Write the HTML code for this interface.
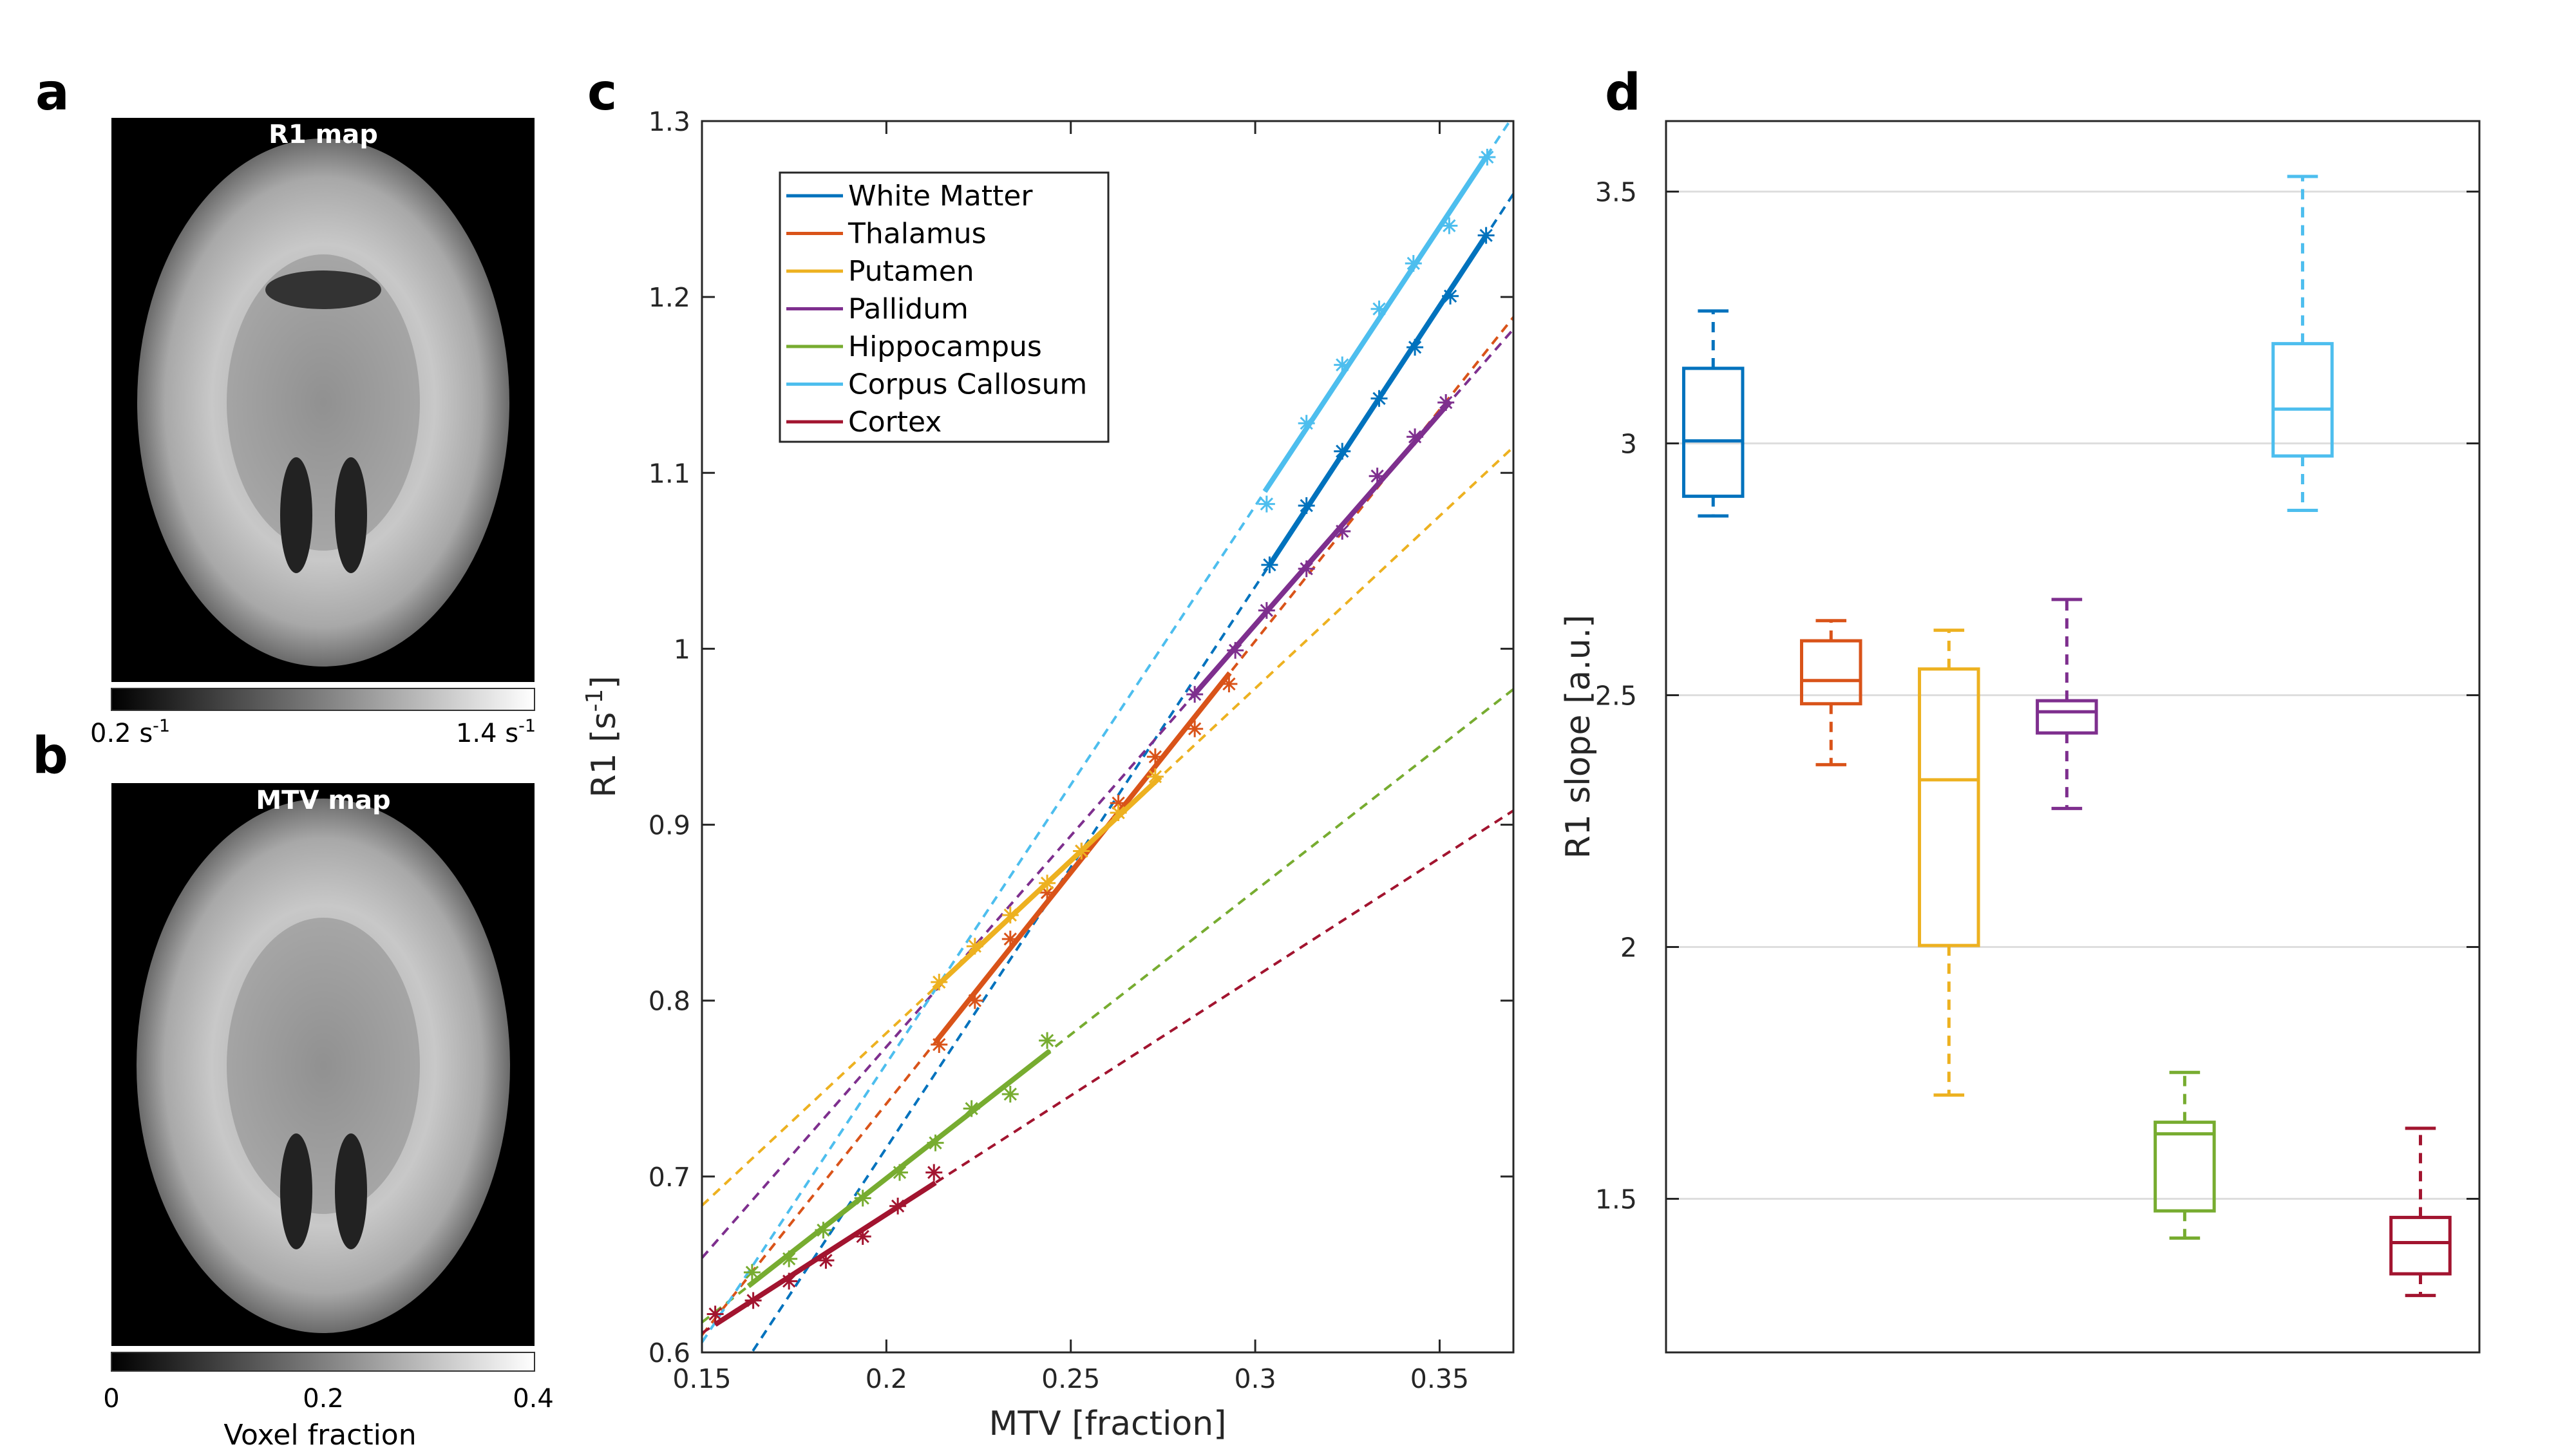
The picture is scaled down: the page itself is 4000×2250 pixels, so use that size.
<!DOCTYPE html>
<html><head><meta charset="utf-8">
<style>
html,body{margin:0;padding:0;background:#fff;}
svg{display:block;font-family:"DejaVu Sans","Liberation Sans",sans-serif;}
</style></head>
<body>
<svg id="fig" width="4000" height="2250" viewBox="0 0 4000 2250" xmlns="http://www.w3.org/2000/svg">
<defs>
<linearGradient id="cb" x1="0" x2="1" y1="0" y2="0"><stop offset="0" stop-color="#000"/><stop offset="1" stop-color="#fff"/></linearGradient>
<radialGradient id="brain" cx="0.5" cy="0.5" r="0.5"><stop offset="0" stop-color="#9a9a9a"/><stop offset="0.6" stop-color="#c8c8c8"/><stop offset="0.85" stop-color="#a8a8a8"/><stop offset="1" stop-color="#6a6a6a"/></radialGradient>
<clipPath id="clipc"><rect x="1090" y="188" width="1260" height="1912"/></clipPath>
</defs>
<text x="55" y="170" font-size="78" font-weight="bold">a</text>
<text x="50" y="1200" font-size="78" font-weight="bold">b</text>
<text x="912" y="170" font-size="78" font-weight="bold">c</text>
<text x="2492" y="170" font-size="78" font-weight="bold">d</text>

<g>
<rect x="173" y="183" width="657" height="876" fill="#000"/>
<ellipse cx="502" cy="625" rx="289" ry="410" fill="url(#brain)"/>
<ellipse cx="502" cy="625" rx="150" ry="230" fill="#888" opacity="0.5"/>
<ellipse cx="460" cy="800" rx="25" ry="90" fill="#222"/><ellipse cx="545" cy="800" rx="25" ry="90" fill="#222"/>
<ellipse cx="502" cy="450" rx="90" ry="30" fill="#333"/>
<text x="502" y="222" font-size="40" font-weight="bold" fill="#fff" text-anchor="middle">R1 map</text>
</g>
<rect x="173" y="1069" width="657" height="34" fill="url(#cb)" stroke="#333" stroke-width="2"/>
<text x="140" y="1152" font-size="40">0.2 s<tspan dy="-16" font-size="27">-1</tspan></text>
<text x="832" y="1152" font-size="40" text-anchor="end">1.4 s<tspan dy="-16" font-size="27">-1</tspan></text>

<g>
<rect x="173" y="1216" width="657" height="874" fill="#000"/>
<ellipse cx="502" cy="1655" rx="290" ry="415" fill="url(#brain)"/>
<ellipse cx="502" cy="1655" rx="150" ry="230" fill="#888" opacity="0.5"/>
<ellipse cx="460" cy="1850" rx="25" ry="90" fill="#222"/><ellipse cx="545" cy="1850" rx="25" ry="90" fill="#222"/>
<text x="502" y="1256" font-size="40" font-weight="bold" fill="#fff" text-anchor="middle">MTV map</text>
</g>
<rect x="173" y="2100" width="657" height="29" fill="url(#cb)" stroke="#333" stroke-width="2"/>
<text x="173" y="2185" font-size="40" text-anchor="middle">0</text>
<text x="502" y="2185" font-size="40" text-anchor="middle">0.2</text>
<text x="828" y="2185" font-size="40" text-anchor="middle">0.4</text>
<text x="497" y="2243" font-size="44" text-anchor="middle">Voxel fraction</text>

<g id="pc"></g>
<g id="pd"></g>
</svg>
<script>
const NS='http://www.w3.org/2000/svg';
// ---------- panel c data ----------
const seriesNames=['White Matter','Thalamus','Putamen','Pallidum','Hippocampus','Corpus Callosum','Cortex'];
const seriesColors=['#0072BD','#D95319','#EDB120','#7E2F8E','#77AC30','#4DBEEE','#A2142F'];
const wmX=[.3039,.3139,.3236,.3336,.3433,.3529,.3626];
const wmY=[1.0477,1.0814,1.1123,1.1423,1.1714,1.2005,1.2350];
const thX=[.2143,.224,.2336,.2436,.2529,.2629,.2729,.2836,.2929];
const thY=[.775,.8,.835,.8614,.885,.9123,.9386,.9545,.98];
const puX=[.2143,.224,.2336,.2436,.2529,.2629,.2729];
const puY=[.8105,.8309,.8486,.8668,.885,.9068,.9273];
const paX=[.2836,.2946,.3031,.3139,.3236,.3331,.3433,.3517];
const paY=[.9741,.9991,1.0218,1.0455,1.0668,1.0982,1.1205,1.14];
const hiX=[.1636,.1736,.1829,.1936,.2036,.2133,.2231,.2336,.2436];
const hiY=[.6455,.6532,.6695,.6877,.7023,.7191,.7386,.7468,.7773];
const ccX=[.3031,.3139,.3236,.3336,.3429,.3526,.3629];
const ccY=[1.0823,1.1282,1.1614,1.1932,1.2191,1.2405,1.2795];
const coX=[.1536,.1639,.1736,.1836,.1936,.2031,.2129];
const coY=[.6218,.6295,.6405,.6523,.6659,.6832,.7023];
const fitSlopes=[3.19,2.63,1.96,2.40,1.636,3.17,1.35];
const fitIntercepts=[0.0783,0.2154,0.3895,0.2937,0.3717,0.1302,0.4085];
const fitStart=[.3039,.2133,.2129,.2829,.1626,.3026,.1536];
const fitEnd=[.3626,.2931,.2743,.3529,.2443,.3629,.2133];
const cXTicks=[0.15,0.2,0.25,0.3,0.35];
const cXTickLabels=['0.15','0.2','0.25','0.3','0.35'];
const cYTicks=[0.6,0.7,0.8,0.9,1.0,1.1,1.2,1.3];
const cYTickLabels=['0.6','0.7','0.8','0.9','1','1.1','1.2','1.3'];
// ---------- panel d data ----------
const boxNames=['white-matter','thalamus','putamen','pallidum','hippocampus','corpus-callosum','cortex'];
const boxWhiskerHigh=[3.263,2.648,2.629,2.690,1.751,3.530,1.640];
const boxQ3=[3.149,2.608,2.552,2.489,1.652,3.198,1.463];
const boxMedian=[3.005,2.529,2.332,2.467,1.629,3.068,1.413];
const boxQ1=[2.895,2.483,2.003,2.425,1.476,2.975,1.351];
const boxWhiskerLow=[2.856,2.362,1.706,2.275,1.422,2.867,1.308];
const dYTicks=[1.5,2,2.5,3,3.5];
const dYTickLabels=['1.5','2','2.5','3','3.5'];

function el(tag,attrs,parent){const e=document.createElementNS(NS,tag);for(const k in attrs)e.setAttribute(k,attrs[k]);parent.appendChild(e);return e;}

// panel c
const C={l:1090,r:2350,t:188,b:2100,x0:0.15,x1:0.37,y0:0.6,y1:1.3};
const cx=v=>C.l+(v-C.x0)/(C.x1-C.x0)*(C.r-C.l);
const cy=v=>C.b-(v-C.y0)/(C.y1-C.y0)*(C.b-C.t);
const pc=document.getElementById('pc');
const allX=[wmX,thX,puX,paX,hiX,ccX,coX], allY=[wmY,thY,puY,paY,hiY,ccY,coY];
const gl=el('g',{'clip-path':'url(#clipc)'},pc);
for(let i=0;i<7;i++){
  const col=seriesColors[i], m=fitSlopes[i], b=fitIntercepts[i];
  const d=el('line',{x1:cx(C.x0),y1:cy(m*C.x0+b),x2:cx(C.x1),y2:cy(m*C.x1+b),stroke:col,'stroke-width':4,'stroke-dasharray':'14 10'},gl);
  
  
}
for(let i=0;i<7;i++){
  const col=seriesColors[i], m=fitSlopes[i], b=fitIntercepts[i];
  const s=el('line',{x1:cx(fitStart[i]),y1:cy(m*fitStart[i]+b),x2:cx(fitEnd[i]),y2:cy(m*fitEnd[i]+b),stroke:col,'stroke-width':8},gl);
  
  
  for(let j=0;j<allX[i].length;j++){
    const px=cx(allX[i][j]),py=cy(allY[i][j]),r=13;
    const g=el('g',{stroke:col,'stroke-width':3},gl);
    
    
    el('line',{x1:px-r,y1:py,x2:px+r,y2:py},g);
    el('line',{x1:px,y1:py-r,x2:px,y2:py+r},g);
    el('line',{x1:px-r*.7,y1:py-r*.7,x2:px+r*.7,y2:py+r*.7},g);
    el('line',{x1:px-r*.7,y1:py+r*.7,x2:px+r*.7,y2:py-r*.7},g);
  }
}
const ax=el('rect',{x:C.l,y:C.t,width:C.r-C.l,height:C.b-C.t,fill:'none',stroke:'#262626','stroke-width':3},pc);


cXTicks.forEach((v,i)=>{
  el('line',{x1:cx(v),y1:C.b,x2:cx(v),y2:C.b-20,stroke:'#262626','stroke-width':3},pc);
  el('line',{x1:cx(v),y1:C.t,x2:cx(v),y2:C.t+20,stroke:'#262626','stroke-width':3},pc);
  const t=el('text',{x:cx(v),y:C.b+55,'font-size':41,'text-anchor':'middle',fill:'#262626'},pc);
  t.textContent=cXTickLabels[i];
  
  
});
cYTicks.forEach((v,i)=>{
  el('line',{x1:C.l,y1:cy(v),x2:C.l+20,y2:cy(v),stroke:'#262626','stroke-width':3},pc);
  el('line',{x1:C.r,y1:cy(v),x2:C.r-20,y2:cy(v),stroke:'#262626','stroke-width':3},pc);
  const t=el('text',{x:C.l-18,y:cy(v)+15,'font-size':41,'text-anchor':'end',fill:'#262626'},pc);
  t.textContent=cYTickLabels[i];
  
  
});
const xt=el('text',{x:(C.l+C.r)/2,y:2228,'font-size':52,'text-anchor':'middle',fill:'#262626'},pc);
xt.textContent='MTV [fraction]';


const yt=el('text',{x:0,y:0,'font-size':52,'text-anchor':'middle',fill:'#262626',transform:'translate(955,1144) rotate(-90)'},pc);
yt.innerHTML='R1 [s<tspan dy="-20" font-size="36">-1</tspan><tspan dy="20">]</tspan>';


// legend
const lg=el('g',{},pc);


el('rect',{x:1211,y:268,width:510,height:418,fill:'#fff',stroke:'#262626','stroke-width':3},lg);
seriesNames.forEach((n,i)=>{
  const y=304+i*58.5;
  const e=el('g',{},lg);
  
  
  el('line',{x1:1221,y1:y,x2:1309,y2:y,stroke:seriesColors[i],'stroke-width':5},e);
  const t=el('text',{x:1317,y:y+15,'font-size':44,fill:'#000'},e);
  t.textContent=n;
});

// panel d
const D={l:2587,r:3850,t:188,b:2100,x0:0.6,x1:7.5,y0:1.195,y1:3.64};
const dx=v=>D.l+(v-D.x0)/(D.x1-D.x0)*(D.r-D.l);
const dy=v=>D.b-(v-D.y0)/(D.y1-D.y0)*(D.b-D.t);
const pd=document.getElementById('pd');
dYTicks.forEach((v,i)=>{
  const g=el('line',{x1:D.l,y1:dy(v),x2:D.r,y2:dy(v),stroke:'#dedede','stroke-width':3},pd);
  
  
  el('line',{x1:D.l,y1:dy(v),x2:D.l+20,y2:dy(v),stroke:'#262626','stroke-width':3},pd);
  el('line',{x1:D.r,y1:dy(v),x2:D.r-20,y2:dy(v),stroke:'#262626','stroke-width':3},pd);
  const t=el('text',{x:D.l-45,y:dy(v)+15,'font-size':41,'text-anchor':'end',fill:'#262626'},pd);
  t.textContent=dYTickLabels[i];
  
  
});
boxNames.forEach((n,i)=>{
  const c=seriesColors[i], x=dx(i+1), hw=dx(1.25)-dx(1), cw=dx(1.13)-dx(1);
  const g=el('g',{stroke:c,'stroke-width':5,fill:'none'},pd);
  
  
  el('rect',{x:x-hw,y:dy(boxQ3[i]),width:2*hw,height:dy(boxQ1[i])-dy(boxQ3[i])},g);
  el('line',{x1:x-hw,y1:dy(boxMedian[i]),x2:x+hw,y2:dy(boxMedian[i])},g);
  el('line',{x1:x,y1:dy(boxQ3[i]),x2:x,y2:dy(boxWhiskerHigh[i]),'stroke-dasharray':'16 12'},g);
  el('line',{x1:x,y1:dy(boxQ1[i]),x2:x,y2:dy(boxWhiskerLow[i]),'stroke-dasharray':'16 12'},g);
  el('line',{x1:x-cw,y1:dy(boxWhiskerHigh[i]),x2:x+cw,y2:dy(boxWhiskerHigh[i])},g);
  el('line',{x1:x-cw,y1:dy(boxWhiskerLow[i]),x2:x+cw,y2:dy(boxWhiskerLow[i])},g);
});
const dax=el('rect',{x:D.l,y:D.t,width:D.r-D.l,height:D.b-D.t,fill:'none',stroke:'#262626','stroke-width':3},pd);


const dyt=el('text',{x:0,y:0,'font-size':52,'text-anchor':'middle',fill:'#262626',transform:'translate(2468,1144) rotate(-90)'},pd);
dyt.textContent='R1 slope [a.u.]';


</script>
</body></html>
